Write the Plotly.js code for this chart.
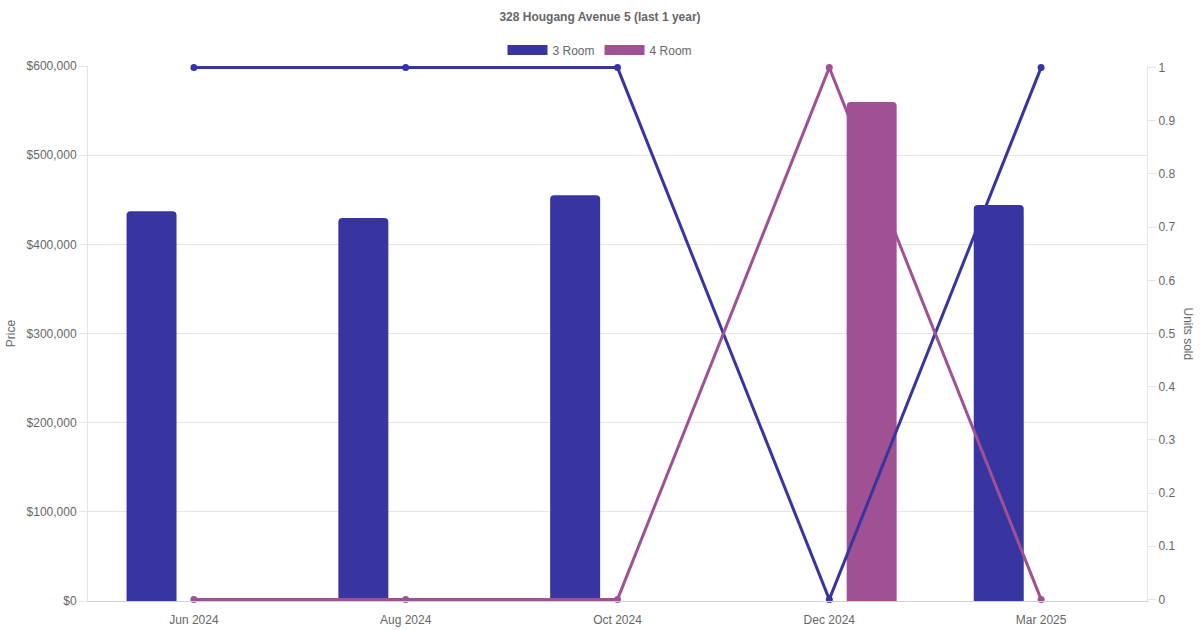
<!DOCTYPE html>
<html>
<head>
<meta charset="utf-8">
<script src="https://cdn.plot.ly/plotly-3.0.1.min.js"></script>
<style>html,body{margin:0;padding:0;background:#fff;}#chart{width:1200px;height:630px;}</style>
</head>
<body>
<div id="chart"></div>
<script>
var months = ['Jun 2024', 'Aug 2024', 'Oct 2024', 'Dec 2024', 'Mar 2025'];
var price3Room = [437000, 429500, 455000, null, 444000];
var price4Room = [null, null, null, 559500, null];
var units3Room = [1, 1, 1, 0, 1];
var units4Room = [0, 0, 0, 1, 0];
var seriesNames = ['3 Room', '4 Room'];
var colors = ['#3935a0', '#9f5193'];

var FONT = '"Liberation Sans", Arial, Helvetica, sans-serif';

var traces = [
  {type: 'bar', x: months, y: price3Room, name: seriesNames[0], marker: {color: colors[0]}, showlegend: false, hoverinfo: 'skip'},
  {type: 'bar', x: months, y: price4Room, name: seriesNames[1], marker: {color: colors[1]}, showlegend: false, hoverinfo: 'skip'},
  {type: 'scatter', mode: 'lines+markers', x: months, y: units3Room, yaxis: 'y2', name: seriesNames[0],
   line: {color: colors[0], width: 3}, marker: {color: colors[0], size: 7}, cliponaxis: false, showlegend: false, hoverinfo: 'skip'},
  {type: 'scatter', mode: 'lines+markers', x: months, y: units4Room, yaxis: 'y2', name: seriesNames[1],
   line: {color: colors[1], width: 3}, marker: {color: colors[1], size: 7}, cliponaxis: false, showlegend: false, hoverinfo: 'skip'},
  {type: 'scatter', mode: 'lines', x: [null], y: [null], name: seriesNames[0], line: {color: colors[0], width: 12}, showlegend: true, hoverinfo: 'skip'},
  {type: 'scatter', mode: 'lines', x: [null], y: [null], name: seriesNames[1], line: {color: colors[1], width: 12}, showlegend: true, hoverinfo: 'skip'}
];

var layout = {
  width: 1200, height: 630,
  margin: {l: 88, r: 53, t: 66, b: 29, pad: 0, autoexpand: false},
  paper_bgcolor: '#fff', plot_bgcolor: '#fff',
  font: {family: FONT, size: 12, color: '#666'},
  title: {text: '328 Hougang Avenue 5 (last 1 year)', font: {family: FONT, size: 12, color: '#666', weight: 'bold'},
          x: 0.5, xref: 'container', xanchor: 'center', y: 1 - 17 / 630, yref: 'container', yanchor: 'middle'},
  barmode: 'group', bargap: 0.2, bargroupgap: 0.41, barcornerradius: 4,
  showlegend: true,
  legend: {orientation: 'h', x: (600 - 88) / 1059, xref: 'paper', xanchor: 'center', y: 1 + 16 / 535, yanchor: 'middle',
           font: {family: FONT, size: 12, color: '#666'}, itemwidth: 40, traceorder: 'normal', bgcolor: 'rgba(0,0,0,0)'},
  xaxis: {type: 'category', showgrid: false, zeroline: false, showline: true, linecolor: '#d0d0d0', linewidth: 1,
          ticks: 'outside', ticklen: 8, tickcolor: 'rgba(0,0,0,0)', tickfont: {family: FONT, size: 12, color: '#666'}},
  yaxis: {range: [0, 600000], dtick: 100000, tickprefix: '$', tickformat: ',d', showgrid: true, gridcolor: '#e5e5e5',
          zeroline: false, showline: true, linecolor: '#e5e5e5', ticks: 'outside', ticklen: 8, tickcolor: '#e5e5e5',
          tickfont: {family: FONT, size: 12, color: '#666'},
          title: {text: 'Price', font: {family: FONT, size: 12, color: '#666'}, standoff: 8}},
  yaxis2: {overlaying: 'y', side: 'right', range: [-0.003, 1.003], tick0: 0, dtick: 0.1, showgrid: false, zeroline: false,
           showline: true, linecolor: '#e5e5e5', ticks: 'outside', ticklen: 8, tickcolor: '#e5e5e5',
           tickfont: {family: FONT, size: 12, color: '#666'}},
  annotations: [{text: 'Units sold', textangle: 90, xref: 'paper', yref: 'paper', x: (1188 - 88) / 1059, y: 0.5,
                 xanchor: 'center', yanchor: 'middle', showarrow: false, font: {family: FONT, size: 12, color: '#666'}}]
};

Plotly.newPlot('chart', traces, layout, {displayModeBar: false, staticPlot: true});
</script>
</body>
</html>
